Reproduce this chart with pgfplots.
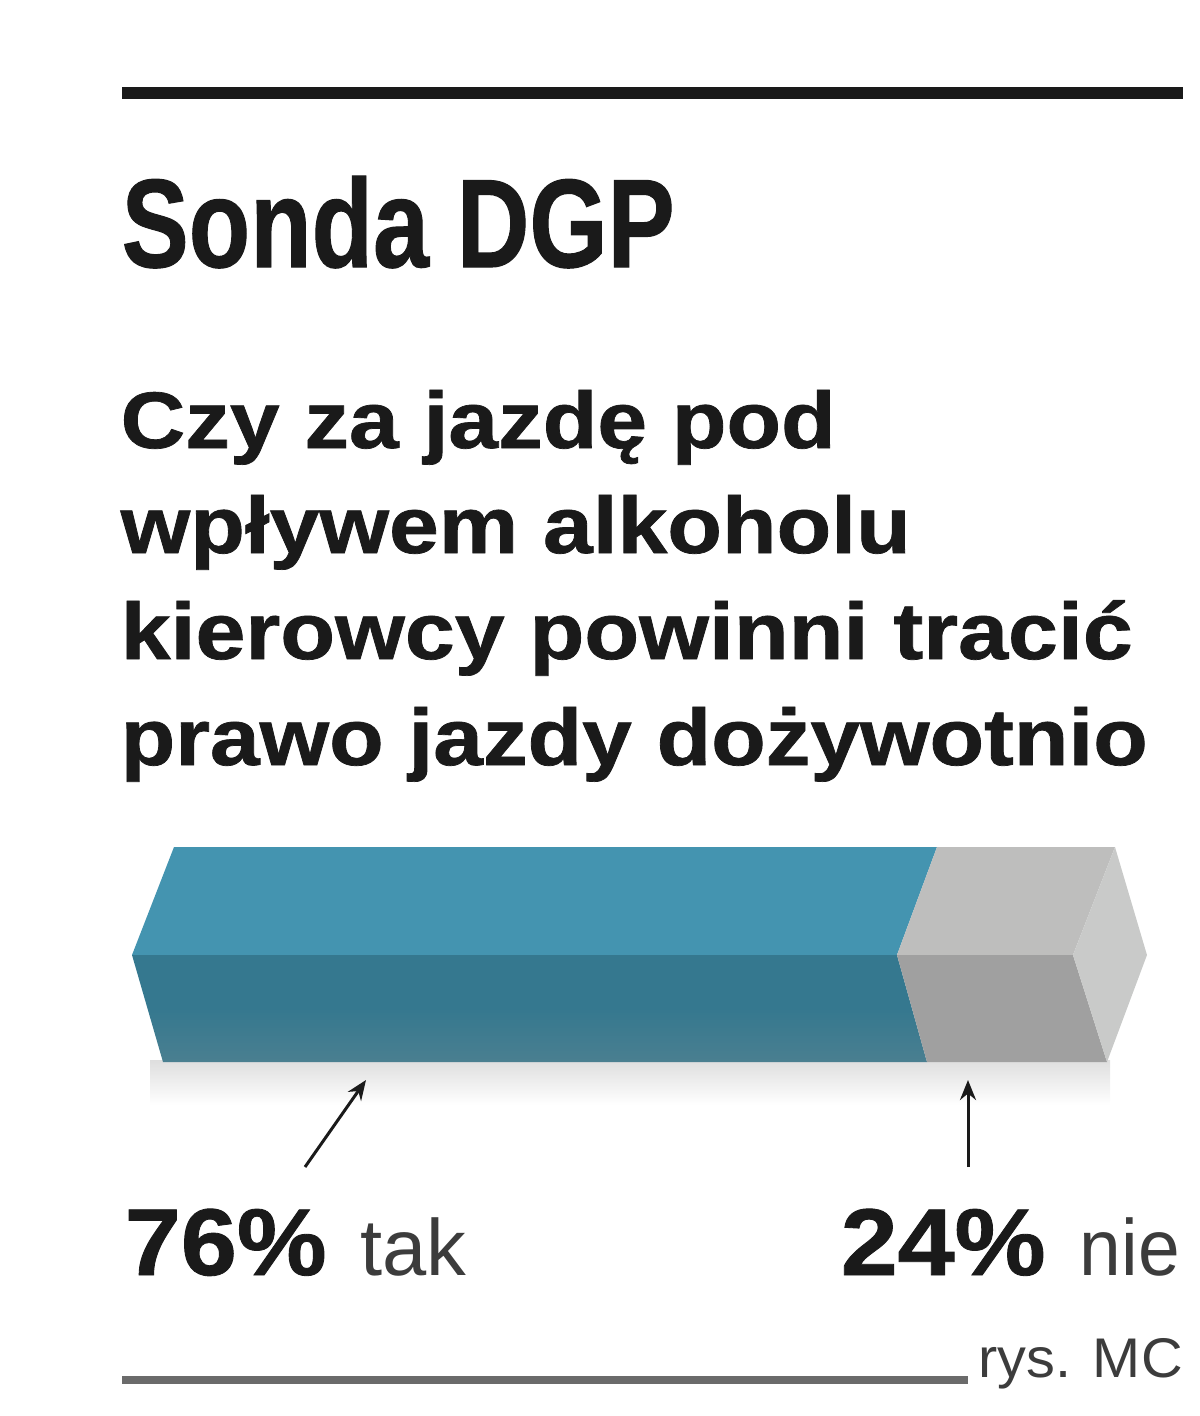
\documentclass[border=0pt]{standalone}
\usepackage{fontspec}
\setmainfont{Liberation Sans}
\newfontfamily\heavy[FakeBold=0.9]{Liberation Sans Bold}
\usepackage{graphicx}
\usepackage{pgfplots}
\pgfplotsset{compat=1.18}
\usetikzlibrary{arrows.meta}
\definecolor{txt}{HTML}{1A1A1A}
\definecolor{bluetop}{HTML}{4494B0}
\definecolor{bluebot}{HTML}{35788F}
\definecolor{bluebot2}{HTML}{4A7F90}
\definecolor{graytop}{HTML}{BEBEBD}
\definecolor{graybot}{HTML}{A0A0A0}
\definecolor{graycap}{HTML}{C9CAC9}
\begin{document}
\begin{tikzpicture}
\begin{axis}[width=12cm,height=14.16cm,scale only axis,
  xmin=0,xmax=1200,ymin=0,ymax=1416,y dir=reverse,
  axis lines=none,ticks=none,clip=false]
\path (axis cs:0,0) rectangle (axis cs:1200,1416);
% rules
\draw[txt,line width=0.12cm] (axis cs:122,93) -- (axis cs:1183,93);
\draw[black!58,line width=0.085cm] (axis cs:122,1380) -- (axis cs:968,1380);
% title
\node[anchor=base west,inner sep=0pt,text=txt] at (axis cs:121,267)
  {\fontsize{35.8}{40}\selectfont\heavy\resizebox{5.53cm}{\height}{Sonda DGP}};
\node[anchor=base west,inner sep=0pt,text=txt] at (axis cs:120,448)
  {\fontsize{22.8}{26}\selectfont\heavy\resizebox{7.15cm}{\height}{Czy za jazdę pod}};
\node[anchor=base west,inner sep=0pt,text=txt] at (axis cs:120,553)
  {\fontsize{22.8}{26}\selectfont\heavy\resizebox{7.90cm}{\height}{wpływem alkoholu}};
\node[anchor=base west,inner sep=0pt,text=txt] at (axis cs:120,659)
  {\fontsize{22.8}{26}\selectfont\heavy\resizebox{10.12cm}{\height}{kierowcy powinni tracić}};
\node[anchor=base west,inner sep=0pt,text=txt] at (axis cs:120,765)
  {\fontsize{22.8}{26}\selectfont\heavy\resizebox{10.27cm}{\height}{prawo jazdy dożywotnio}};
% shadow
\fill[top color=black!13,bottom color=white,draw=none] (axis cs:150,1060) rectangle (axis cs:1110,1105);
% bar: tak 76%, nie 24%
\addplot[draw=none,fill=bluetop] coordinates {(174,847) (937,847) (897,955) (132,955)} -- cycle;
\addplot[draw=none,top color=bluebot,bottom color=bluebot2,middle color=bluebot] coordinates {(132,955) (897,955) (927,1062) (163,1062)} -- cycle;
\addplot[draw=none,fill=graytop] coordinates {(937,847) (1115,847) (1073,955) (897,955)} -- cycle;
\addplot[draw=none,fill=graybot] coordinates {(897,955) (1073,955) (1107,1062) (927,1062)} -- cycle;
\addplot[draw=none,fill=graycap] coordinates {(1115,847) (1147,955) (1107,1062) (1073,955)} -- cycle;
% arrows
\draw[txt,line width=0.03cm,-{Stealth[length=0.2cm,width=0.16cm]}] (axis cs:305,1167) -- (axis cs:366,1080);
\draw[txt,line width=0.03cm,-{Stealth[length=0.2cm,width=0.16cm]}] (axis cs:968,1167) -- (axis cs:968,1080);
% labels
\node[anchor=base west,inner sep=0pt,text=txt] at (axis cs:124,1275)
  {\fontsize{27}{30}\selectfont\heavy\resizebox{2.02cm}{\height}{76\%}};
\node[anchor=base west,inner sep=0pt,text=txt!85] at (axis cs:360,1275)
  {\fontsize{22.7}{26}\selectfont\resizebox{1.06cm}{\height}{tak}};
\node[anchor=base west,inner sep=0pt,text=txt] at (axis cs:840,1275)
  {\fontsize{27}{30}\selectfont\heavy\resizebox{2.05cm}{\height}{24\%}};
\node[anchor=base west,inner sep=0pt,text=txt!85] at (axis cs:1079,1275)
  {\fontsize{22.7}{26}\selectfont\resizebox{1.00cm}{\height}{nie}};
\node[anchor=base west,inner sep=0pt,text=txt!85] at (axis cs:978,1377)
  {\fontsize{15.9}{18}\selectfont\resizebox{2.04cm}{\height}{rys. MC}};
\end{axis}
\end{tikzpicture}
\end{document}
